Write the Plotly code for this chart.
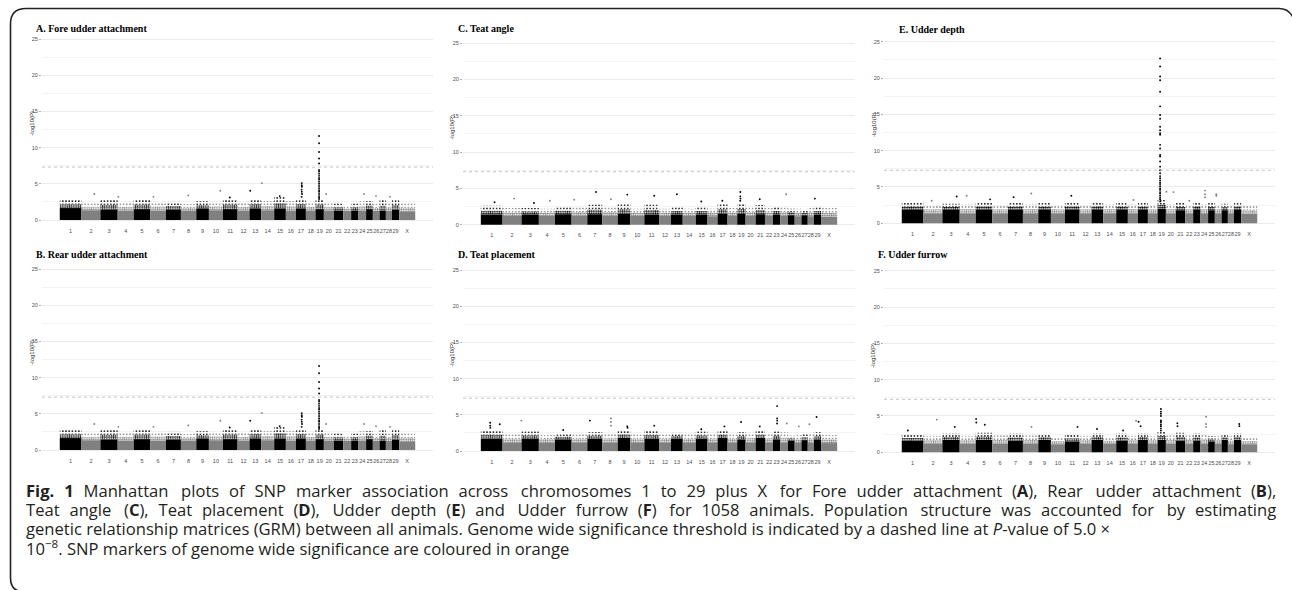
import numpy as np
import plotly.graph_objects as go

W, H = 1292, 590

# ---------------- data ----------------
chrom_labels = [str(i) for i in range(1, 30)] + ["X"]
# chromosome lengths (Mb, as drawn on the genome axis)
chrom_len = [158, 138, 126, 117, 121, 114, 109, 112, 92, 102, 107, 87, 85, 95, 85,
             73, 73, 70, 61, 73, 68, 58, 53, 56, 49, 49, 46, 44, 53, 117]
threshold_p = 5.0e-8

# A. Fore udder attachment
A_dense = [1.65, 1.35, 1.45, 1.3, 1.5, 1.3, 1.45, 1.3, 1.6, 1.35, 1.5, 1.3, 1.6, 1.35, 1.6,
           1.3, 1.6, 1.3, 1.5, 1.3, 1.3, 1.25, 1.3, 1.3, 1.5, 1.25, 1.3, 1.25, 1.4, 1.2]
A_fuzz = [2.8, 2.3, 2.9, 2.4, 2.9, 2.5, 2.5, 2.2, 2.6, 2.5, 2.9, 2.4, 2.9, 2.6, 3.2,
          2.6, 2.9, 2.4, 2.9, 2.4, 2.3, 2.0, 2.3, 2.6, 2.6, 2.2, 2.8, 2.3, 2.9, 2.3]
A_hit_chr = ["2", "4", "6", "8", "10", "13", "14", "15", "11",
             "17", "17", "17", "17", "17", "17", "17",
             "19", "19", "19", "19", "19", "19", "19", "19", "19", "19", "19",
             "19", "19", "19", "19", "19", "19", "19", "19", "19", "19",
             "20", "24", "26", "28"]
A_hit_pos = [94, 5, 23, 54, 83, 5, 5, 40, 50,
             43, 43, 44, 42, 43, 45, 42,
             26, 26, 26, 26, 26, 26, 26, 26, 26, 26, 26,
             26, 26, 26, 26, 26, 26, 26, 26, 26, 26,
             17, 41, 23, 30]
A_hit_logp = [3.6, 3.2, 3.2, 3.4, 4.05, 4.05, 5.1, 3.3, 3.1,
              5.1, 4.8, 4.6, 4.2, 3.9, 3.6, 3.2,
              11.6, 10.6, 9.4, 8.5, 7.8, 6.9, 6.7, 6.4, 6.1, 5.8, 5.6,
              5.3, 5.0, 4.7, 4.4, 4.1, 3.9, 3.6, 3.3, 3.1, 2.9,
              3.6, 3.6, 3.3, 3.2]

# B. Rear udder attachment
B_dense = [1.65, 1.35, 1.45, 1.3, 1.5, 1.3, 1.45, 1.3, 1.6, 1.35, 1.5, 1.3, 1.6, 1.35, 1.6,
           1.3, 1.6, 1.3, 1.5, 1.3, 1.3, 1.25, 1.3, 1.3, 1.5, 1.25, 1.3, 1.25, 1.4, 1.2]
B_fuzz = [2.8, 2.3, 2.9, 2.4, 2.9, 2.5, 2.5, 2.2, 2.6, 2.5, 2.9, 2.4, 2.9, 2.6, 3.2,
          2.6, 2.9, 2.4, 2.9, 2.4, 2.3, 2.0, 2.3, 2.6, 2.6, 2.2, 2.8, 2.3, 2.9, 2.3]
B_hit_chr = ["2", "4", "6", "8", "10", "13", "14", "15", "11",
             "17", "17", "17", "17", "17", "17", "17",
             "19", "19", "19", "19", "19", "19", "19", "19", "19", "19", "19",
             "19", "19", "19", "19", "19", "19", "19", "19", "19", "19",
             "20", "24", "26", "28"]
B_hit_pos = [94, 5, 23, 54, 83, 5, 5, 40, 50,
             43, 43, 44, 42, 43, 45, 42,
             26, 26, 26, 26, 26, 26, 26, 26, 26, 26, 26,
             26, 26, 26, 26, 26, 26, 26, 26, 26, 26,
             17, 41, 23, 30]
B_hit_logp = [3.6, 3.2, 3.2, 3.4, 4.05, 4.05, 5.1, 3.3, 3.1,
              5.1, 4.8, 4.6, 4.2, 3.9, 3.6, 3.2,
              11.6, 10.6, 9.4, 8.5, 7.8, 6.9, 6.7, 6.4, 6.1, 5.8, 5.6,
              5.3, 5.0, 4.7, 4.4, 4.1, 3.9, 3.6, 3.3, 3.1, 2.9,
              3.6, 3.6, 3.3, 3.2]

# C. Teat angle
C_dense = [1.4, 1.2, 1.4, 1.2, 1.45, 1.2, 1.45, 1.2, 1.5, 1.2, 1.4, 1.2, 1.4, 1.2, 1.4,
           1.15, 1.5, 1.2, 1.5, 1.2, 1.45, 1.2, 1.4, 1.2, 1.3, 1.15, 1.3, 1.15, 1.4, 1.1]
C_fuzz = [2.6, 2.3, 2.3, 2.2, 2.5, 2.4, 2.8, 2.4, 2.9, 2.2, 2.8, 2.2, 2.5, 2.2, 2.5,
          2.2, 2.9, 2.3, 3.0, 2.4, 2.7, 2.3, 2.5, 2.4, 2.2, 2.2, 2.0, 2.3, 2.5, 2.3]
C_hit_chr = ["7", "9", "11", "13", "19", "19", "19", "19", "24", "2", "29", "8", "6",
             "21", "15", "17", "4", "1", "3"]
C_hit_pos = [63, 70, 72, 43, 23, 23, 24, 22, 43, 84, 8, 63, 19, 30, 40, 35, 80, 100, 90]
C_hit_logp = [4.5, 4.15, 4.0, 4.2, 4.5, 3.9, 3.6, 3.3, 4.2, 3.6, 3.6, 3.5, 3.45,
              3.5, 3.2, 3.3, 3.3, 3.1, 3.0]

# D. Teat placement
D_dense = [1.7, 1.2, 1.7, 1.2, 1.6, 1.2, 1.7, 1.2, 1.8, 1.2, 1.7, 1.2, 1.7, 1.2, 1.7,
           1.2, 1.8, 1.2, 1.6, 1.2, 1.8, 1.2, 1.6, 1.2, 1.4, 1.1, 1.5, 1.1, 1.6, 1.1]
D_fuzz = [2.9, 2.3, 2.7, 2.2, 2.4, 2.3, 2.6, 2.4, 2.9, 2.3, 2.8, 2.3, 2.5, 2.3, 2.7,
          2.3, 2.8, 2.3, 2.6, 2.5, 2.8, 2.4, 2.7, 2.6, 2.1, 2.2, 2.4, 2.3, 2.6, 2.2]
D_hit_chr = ["1", "1", "1", "1", "2", "7", "8", "8", "8", "9", "9", "11", "17", "19",
             "21", "23", "23", "23", "23", "24", "26", "28", "29", "5", "15"]
D_hit_pos = [68, 68, 69, 138, 137, 19, 63, 63, 64, 70, 72, 72, 50, 28,
             30, 30, 30, 31, 30, 47, 30, 12, 20, 60, 40]
D_hit_logp = [3.9, 3.5, 3.2, 3.7, 4.2, 4.2, 4.5, 4.0, 3.5, 3.4, 3.2, 3.5, 3.4, 4.0,
              3.4, 6.2, 4.5, 4.2, 3.8, 3.8, 3.4, 3.7, 4.7, 2.9, 3.0]

# E. Udder depth
E_dense = [1.9, 1.4, 1.9, 1.4, 1.9, 1.4, 1.9, 1.4, 1.9, 1.4, 1.9, 1.4, 1.9, 1.4, 1.9,
           1.4, 1.9, 1.4, 2.0, 1.4, 1.8, 1.4, 1.9, 1.4, 1.8, 1.4, 1.8, 1.4, 1.9, 1.3]
E_fuzz = [2.8, 2.5, 2.7, 2.6, 2.9, 2.5, 2.8, 2.6, 2.8, 2.5, 2.9, 2.5, 2.9, 2.6, 2.8,
          2.6, 2.8, 2.5, 3.2, 2.6, 2.8, 2.5, 2.8, 2.6, 2.8, 2.5, 2.7, 2.5, 2.9, 2.4]
E_hit_chr = ["19"] * 34 + ["20", "20", "24", "24", "24", "26", "26", "8", "11", "4",
                           "3", "7", "5", "2", "22", "16"]
E_hit_pos = [19] * 34 + [4, 55, 33, 33, 34, 10, 11, 61, 47, 51, 104, 41, 105, 60, 30, 40]
E_hit_logp = [22.7, 21.6, 20.2, 19.7, 18.1, 16.1, 14.9, 14.4, 13.3, 12.8, 12.4, 12.2,
              10.8, 10.3, 9.4, 9.2, 8.5, 7.8, 7.3, 6.9, 6.5, 6.2, 5.9, 5.6, 5.4, 5.1,
              4.8, 4.6, 4.3, 4.1, 3.8, 3.5, 3.3, 3.0,
              4.35, 4.3, 4.5, 4.0, 3.6, 4.0, 3.8, 4.1, 3.8, 3.8, 3.7, 3.6, 3.3, 3.1, 3.1, 3.2]

# F. Udder furrow
F_dense = [1.6, 1.2, 1.7, 1.2, 1.7, 1.2, 1.6, 1.2, 1.7, 1.1, 1.5, 1.2, 1.7, 1.2, 1.6,
           1.2, 1.7, 1.2, 1.7, 1.2, 1.6, 1.2, 1.6, 1.2, 1.5, 1.2, 1.7, 1.1, 1.7, 1.1]
F_fuzz = [2.4, 2.2, 2.6, 2.2, 2.7, 2.3, 2.6, 2.3, 2.5, 2.1, 2.4, 2.2, 2.6, 2.1, 2.6,
          2.2, 2.6, 2.2, 2.8, 2.3, 2.7, 2.3, 2.6, 2.5, 2.2, 2.2, 2.5, 2.2, 2.6, 2.1]
F_hit_chr = ["19"] * 11 + ["24", "24", "24", "5", "5", "5", "2", "16", "17", "17", "21",
                           "21", "29", "29", "3", "11", "8", "1", "13", "15"]
F_hit_pos = [25] * 11 + [41, 41, 42, 3, 4, 66, 97, 60, 5, 20, 11, 12, 39, 40, 90, 92,
                         63, 44, 40, 50]
F_hit_logp = [5.97, 5.6, 5.3, 5.0, 4.4, 4.3, 4.1, 3.8, 3.6, 3.3, 3.0,
              4.9, 3.9, 3.5, 4.6, 4.1, 3.8, 4.5, 4.35, 4.2, 3.6, 4.0, 3.6, 3.9, 3.6,
              3.5, 3.5, 3.5, 3.0, 3.2, 3.0]

panel_titles = ["A. Fore udder attachment", "B. Rear udder attachment", "C. Teat angle",
                "D. Teat placement", "E. Udder depth", "F. Udder furrow"]

caption_lines = [
    "<b>Fig.</b> <b>1</b> Manhattan plots of SNP marker association across chromosomes 1 to 29 plus X "
    "for Fore udder attachment (<b>A</b>), Rear udder attachment (<b>B</b>),",
    "Teat angle (<b>C</b>), Teat placement (<b>D</b>), Udder depth (<b>E</b>) and Udder furrow "
    "(<b>F</b>) for 1058 animals. Population structure was accounted for by estimating",
    "genetic relationship matrices (GRM) between all animals. Genome wide significance "
    "threshold is indicated by a dashed line at <i>P</i>-value of 5.0 ×",
    "10<sup>−8</sup>. SNP markers of genome wide significance are coloured in orange",
]
caption_justified = [True, True, False, False]

# ---------------- layout helpers ----------------
def px_x(p):
    return p / W


def px_y(p):
    return 1 - p / H


# approximate Open Sans advance widths (em) used to justify the caption lines
_adv = {" ": .260, "a": .556, "b": .613, "c": .476, "d": .613, "e": .561, "f": .339, "g": .548,
        "h": .614, "i": .253, "j": .253, "k": .525, "l": .253, "m": .930, "n": .614, "o": .604,
        "p": .613, "q": .613, "r": .408, "s": .477, "t": .353, "u": .614, "v": .501, "w": .778,
        "x": .524, "y": .502, "z": .477, "A": .633, "B": .648, "C": .618, "D": .726, "E": .547,
        "F": .507, "G": .717, "M": .903, "N": .744, "P": .592, "R": .630, "S": .541, "T": .554,
        "U": .722, "X": .604, "(": .288, ")": .288, ",": .245, ".": .266, "-": .322, "×": .572}


def text_width(html, size):
    w, bold, i = 0.0, False, 0
    while i < len(html):
        if html[i] == "<":
            j = html.index(">", i)
            tag = html[i + 1:j]
            if tag == "b":
                bold = True
            elif tag == "/b":
                bold = False
            i = j + 1
            continue
        ch = html[i]
        a = _adv.get(ch, .572 if ch.isdigit() else .56)
        w += a * (1.08 if bold else 1.0)
        i += 1
    return w * size


def justify(line, size, width):
    """Widen the word gaps with six-per-em spaces so the line fills `width`."""
    words = line.split(" ")
    natural = sum(text_width(w, size) for w in words) + 0.26 * size * (len(words) - 1)
    unit = size / 6.0
    extra_units = max(0.0, (width - natural) / unit)
    per_gap = extra_units / (len(words) - 1)
    out, acc, used = words[0], 0.0, 0
    for w in words[1:]:
        acc += per_gap
        n = int(round(acc)) - used
        used += n
        out += " " + "\u2006" * n + w
    return out


lens = np.array(chrom_len, dtype=float)
starts = np.concatenate([[0], np.cumsum(lens)[:-1]])
centers = starts + lens / 2
total = lens.sum()
start_of = dict(zip(chrom_labels, starts))
BLACK, GREY = "#000000", "#808080"
chrom_col = [BLACK if i % 2 == 0 else GREY for i in range(len(chrom_labels))]
col_of = dict(zip(chrom_labels, chrom_col))

panels = [
    dict(data=(A_dense, A_fuzz, A_hit_chr, A_hit_pos, A_hit_logp), box=(42, 433, 29.95, 229.05),
         title=(34, 28), ylab=(31.7, 123), name=panel_titles[0]),
    dict(data=(B_dense, B_fuzz, B_hit_chr, B_hit_pos, B_hit_logp), box=(42, 433, 259.95, 459.05),
         title=(34, 254), ylab=(31.7, 352), name=panel_titles[1]),
    dict(data=(C_dense, C_fuzz, C_hit_chr, C_hit_pos, C_hit_logp), box=(463, 855, 34.1, 233.8),
         title=(456, 28.5), ylab=(451.7, 127), name=panel_titles[2]),
    dict(data=(D_dense, D_fuzz, D_hit_chr, D_hit_pos, D_hit_logp), box=(463, 855, 260.95, 460.05),
         title=(456, 254), ylab=(451.7, 354), name=panel_titles[3]),
    dict(data=(E_dense, E_fuzz, E_hit_chr, E_hit_pos, E_hit_logp), box=(884, 1275, 32.6, 232.4),
         title=(897, 29.3), ylab=(874, 125), name=panel_titles[4]),
    dict(data=(F_dense, F_fuzz, F_hit_chr, F_hit_pos, F_hit_logp), box=(884, 1275, 261.6, 461.4),
         title=(876, 254), ylab=(872.7, 355), name=panel_titles[5]),
]

fig = go.Figure()
annotations = []
shapes = []
tick_font = dict(family="Liberation Sans, Arial, sans-serif", size=5.5, color="#4d4d4d")
thr = -np.log10(threshold_p)

for k, pnl in enumerate(panels, start=1):
    dense, fuzz, hchr, hpos, hlogp = pnl["data"]
    dense = np.array(dense)
    fuzz = np.array(fuzz)
    mid = dense + 0.45 * (fuzz - dense)
    xa = "x" if k == 1 else f"x{k}"
    ya = "y" if k == 1 else f"y{k}"
    fig.add_trace(go.Bar(x=centers, y=dense, base=0, width=lens, marker=dict(color=chrom_col, line_width=0),
                         xaxis=xa, yaxis=ya, hoverinfo="skip"))
    fig.add_trace(go.Bar(x=centers, y=mid - dense, base=dense, width=lens,
                         marker=dict(color=chrom_col, line_width=0,
                                     pattern=dict(shape=".", size=2.2, solidity=0.5, fillmode="replace")),
                         xaxis=xa, yaxis=ya, hoverinfo="skip"))
    fig.add_trace(go.Bar(x=centers, y=fuzz - mid, base=mid, width=lens,
                         marker=dict(color=chrom_col, line_width=0,
                                     pattern=dict(shape=".", size=3.2, solidity=0.22, fillmode="replace")),
                         xaxis=xa, yaxis=ya, hoverinfo="skip"))
    hx = [start_of[c] + p for c, p in zip(hchr, hpos)]
    hc = [col_of[c] for c in hchr]
    fig.add_trace(go.Scatter(x=hx, y=hlogp, mode="markers", marker=dict(size=1.9, color=hc, line_width=0),
                             xaxis=xa, yaxis=ya, hoverinfo="skip"))

    l, r, t, b = pnl["box"]
    fig.layout[("xaxis" if k == 1 else f"xaxis{k}")] = dict(
        domain=[px_x(l), px_x(r)], anchor=ya, range=[-0.05 * total, 1.05 * total],
        tickmode="array", tickvals=centers, ticktext=chrom_labels, tickangle=0,
        showgrid=False, zeroline=False, showline=False, ticks="", tickfont=tick_font, fixedrange=True,
        ticklabelstandoff=-3)
    fig.layout[("yaxis" if k == 1 else f"yaxis{k}")] = dict(
        domain=[px_y(b), px_y(t)], anchor=xa, range=[-1.25, 26.25],
        tickmode="array", tickvals=[0, 5, 10, 15, 20, 25],
        showgrid=True, gridcolor="#ebebeb", gridwidth=0.6,
        minor=dict(tickvals=[2.5, 7.5, 12.5, 17.5, 22.5], showgrid=True, gridcolor="#f3f3f3",
                   gridwidth=0.5, ticks=""),
        zeroline=False, showline=False, ticks="outside", ticklen=2, tickwidth=0.6, tickcolor="#b0b0b0",
        tickfont=tick_font, fixedrange=True)
    shapes.append(dict(type="line", xref=f"{xa} domain", x0=0, x1=1, yref=ya, y0=thr, y1=thr,
                       line=dict(color="#b5b5b5", width=0.8, dash="dot"), layer="above"))
    tx, ty = pnl["title"]
    annotations.append(dict(text=f"<b>{pnl['name']}</b>", x=px_x(tx), y=px_y(ty), xref="paper", yref="paper",
                            xanchor="left", yanchor="middle", showarrow=False,
                            font=dict(family="Liberation Serif, Times New Roman, serif", size=10, color="#000")))
    lx, ly = pnl["ylab"]
    annotations.append(dict(text="-log10(P)", x=px_x(lx), y=px_y(ly), xref="paper", yref="paper",
                            xanchor="center", yanchor="middle", textangle=-90, showarrow=False,
                            font=dict(family="Liberation Sans, Arial, sans-serif", size=6, color="#333")))

# caption (first two lines justified between the text margins)
cap_size = 16.6
cap_font = dict(family="Open Sans, sans-serif", size=cap_size, color="#231f20")
cap_left, cap_right = 25, 1276
cap_y = [490, 509.5, 528.5, 547.5]
for line, yy, just in zip(caption_lines, cap_y, caption_justified):
    txt = justify(line, cap_size, cap_right - cap_left) if just else line
    annotations.append(dict(text=txt, x=px_x(cap_left), y=px_y(yy), xref="paper", yref="paper",
                            xanchor="left", yanchor="middle", showarrow=False, font=cap_font,
                            borderpad=0))


def P(xp, yp):
    return f"{px_x(xp):.5f},{px_y(yp):.5f}"


frame = (f"M {P(10.5, 578)} L {P(10.5, 24)} Q {P(10.5, 8.5)} {P(26, 8.5)} "
         f"L {P(1279, 8.5)} Q {P(1290, 8.5)} {P(1294, 20)}")
frame_bl = f"M {P(10.5, 578)} Q {P(10.5, 592)} {P(25, 592)}"
shapes.append(dict(type="path", xref="paper", yref="paper", path=frame, line=dict(color="#222", width=1.6)))
shapes.append(dict(type="path", xref="paper", yref="paper", path=frame_bl, line=dict(color="#222", width=1.6)))

fig.update_layout(width=W, height=H, margin=dict(l=0, r=0, t=0, b=0), autosize=False,
                  paper_bgcolor="white", plot_bgcolor="white", showlegend=False, barmode="overlay",
                  annotations=annotations, shapes=shapes)

fig.write_html("out.html", config={"displayModeBar": False},
               post_script="document.body.style.margin='0';document.body.style.padding='0';")
